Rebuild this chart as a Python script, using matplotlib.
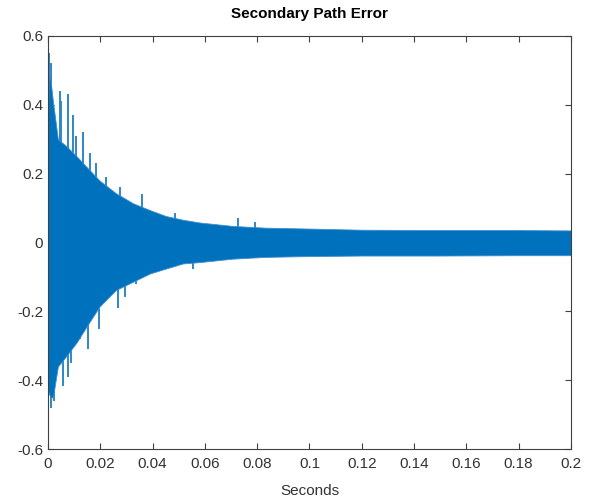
import matplotlib
matplotlib.use('Agg')
import matplotlib.pyplot as plt

# Envelope of the error signal (seconds, value)
env_t = [0.0, 0.0004, 0.001, 0.0019, 0.0038, 0.007, 0.011, 0.0147, 0.0197, 0.026,
         0.0325, 0.039, 0.045, 0.0516, 0.058, 0.0707, 0.083, 0.096, 0.12, 0.15, 0.18, 0.2]
upper = [0.36, 0.51, 0.47, 0.41, 0.30, 0.28, 0.25, 0.22, 0.18, 0.143,
         0.114, 0.094, 0.077, 0.066, 0.058, 0.048, 0.043, 0.041, 0.037, 0.036, 0.036, 0.035]
lower = [-0.43, -0.44, -0.45, -0.45, -0.36, -0.33, -0.29, -0.245, -0.186, -0.138,
         -0.114, -0.09, -0.076, -0.061, -0.057, -0.047, -0.042, -0.040, -0.038, -0.038, -0.037, -0.037]

# Isolated peaks sticking out of the band
spike_up_t = [0.0004, 0.001, 0.0045, 0.0051, 0.0076, 0.0096, 0.0108, 0.0134,
              0.016, 0.0185, 0.0223, 0.0274, 0.036, 0.0484, 0.0726, 0.079]
spike_up_v = [0.55, 0.52, 0.44, 0.41, 0.43, 0.37, 0.31, 0.32,
              0.26, 0.23, 0.19, 0.16, 0.14, 0.085, 0.07, 0.06]
spike_lo_t = [0.0013, 0.0025, 0.0057, 0.0076, 0.0089, 0.0121, 0.0153, 0.0197,
              0.0267, 0.0293, 0.0338, 0.0554]
spike_lo_v = [-0.48, -0.46, -0.416, -0.39, -0.35, -0.28, -0.31, -0.25,
              -0.19, -0.157, -0.12, -0.076]

blue = '#0072BD'
axis_col = '#404040'

plt.rcParams['font.family'] = ['Liberation Sans', 'DejaVu Sans']

fig = plt.figure(figsize=(5.92, 4.99), dpi=100)
ax = fig.add_axes([0.081, 0.1002, 0.8835, 0.8278])

# spikes first, then the band on top so only the tips outside it show
ax.vlines(spike_up_t, 0, spike_up_v, color='#2f86c8', linewidth=1.4, zorder=1)
ax.vlines(spike_lo_t, spike_lo_v, 0, color='#2f86c8', linewidth=1.4, zorder=1)
ax.fill_between(env_t, lower, upper, color=blue, linewidth=0.6,
                edgecolor='#3f8fcc', zorder=2)

ax.set_xlim(0, 0.2)
ax.set_ylim(-0.6, 0.6)
ax.set_xticks([0, 0.02, 0.04, 0.06, 0.08, 0.1, 0.12, 0.14, 0.16, 0.18, 0.2])
ax.set_xticklabels(['0', '0.02', '0.04', '0.06', '0.08', '0.1', '0.12', '0.14', '0.16', '0.18', '0.2'])
ax.set_yticks([-0.6, -0.4, -0.2, 0, 0.2, 0.4, 0.6])
ax.set_yticklabels(['-0.6', '-0.4', '-0.2', '0', '0.2', '0.4', '0.6'])

ax.tick_params(direction='in', top=True, right=True, length=4, width=0.8,
               color=axis_col, labelcolor='#333333', labelsize=11)
ax.tick_params(axis='x', pad=6)
for s in ax.spines.values():
    s.set_color(axis_col)
    s.set_linewidth(0.8)
    s.set_zorder(3)

ax.set_title('Secondary Path Error', fontsize=11, fontweight='bold', pad=13)
ax.set_xlabel('Seconds', fontsize=11, color='#333333', labelpad=9)

fig.savefig('out.png', dpi=100, facecolor='white')
